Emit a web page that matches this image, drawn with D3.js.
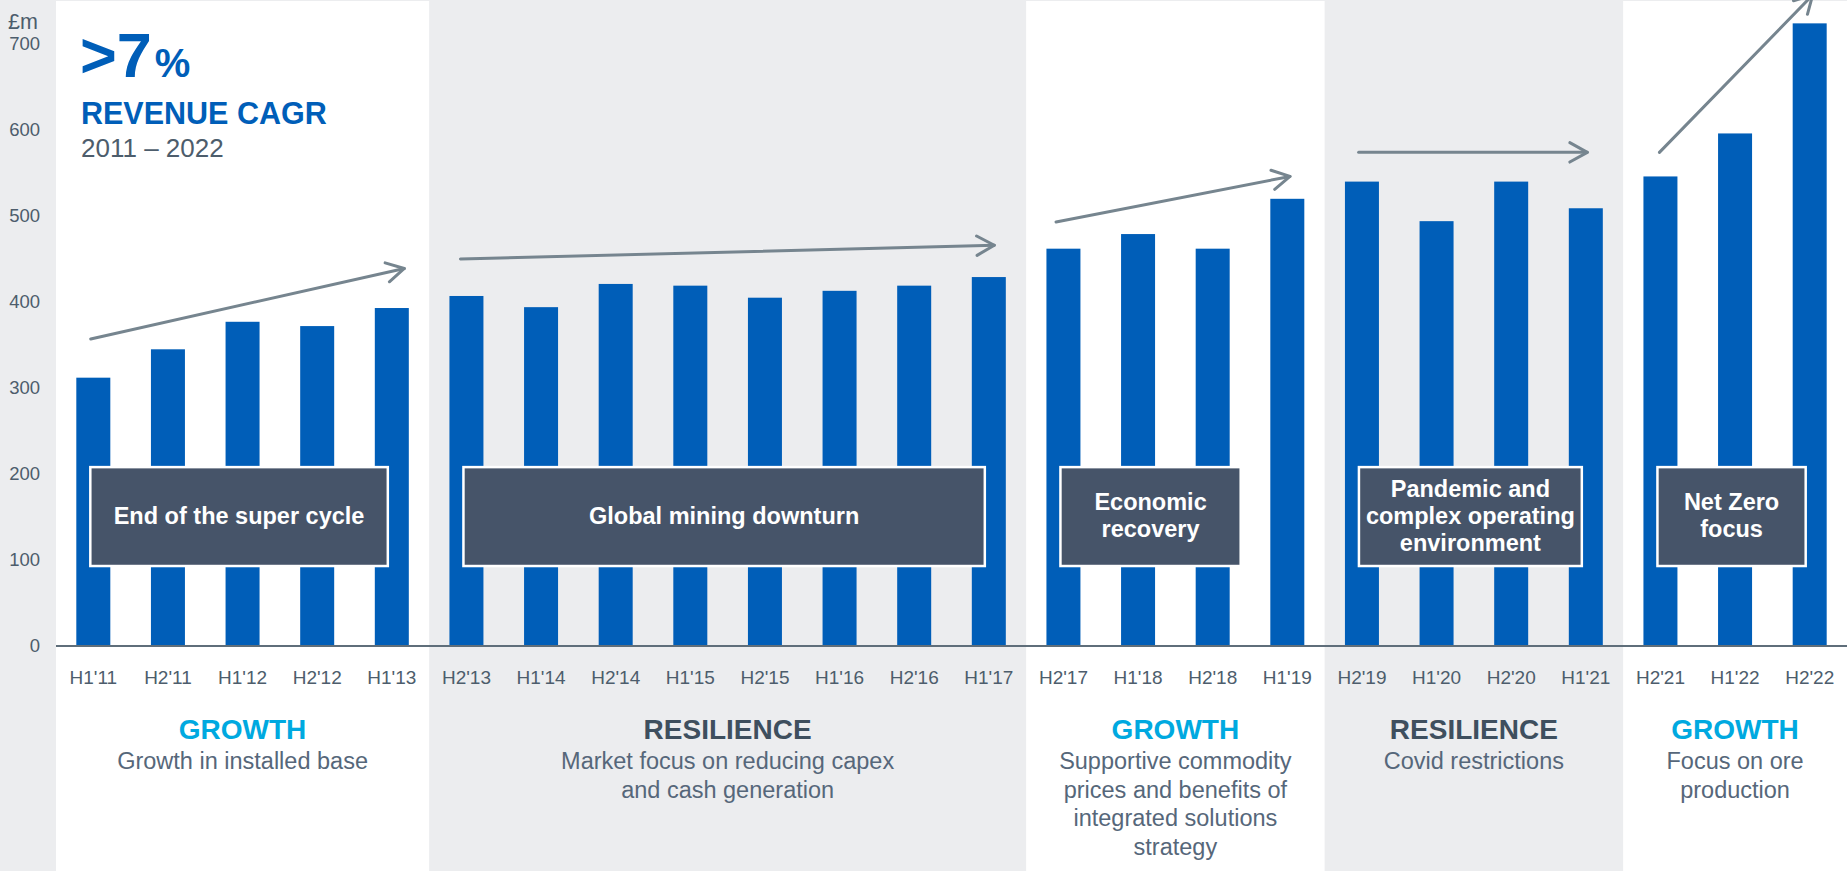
<!DOCTYPE html>
<html>
<head>
<meta charset="utf-8">
<script src="https://cdn.jsdelivr.net/npm/d3@7"></script>
<style>
  html, body { margin: 0; padding: 0; background: #ECEDEF; }
  svg { display: block; font-family: "Liberation Sans", Arial, Helvetica, sans-serif; }
</style>
</head>
<body>
<svg id="chart" width="1847" height="871"></svg>
<script>
// ---------- DATA ----------
const categories = ["H1'11","H2'11","H1'12","H2'12","H1'13",
  "H2'13","H1'14","H2'14","H1'15","H2'15","H1'16","H2'16","H1'17",
  "H2'17","H1'18","H2'18","H1'19",
  "H2'19","H1'20","H2'20","H1'21",
  "H2'21","H1'22","H2'22"];
const revenue = [312, 345, 377, 372, 393,
  407, 394, 421, 419, 405, 413, 419, 429,
  462, 479, 462, 520,
  540, 494, 540, 509,
  546, 596, 724];
const yTicks = [0, 100, 200, 300, 400, 500, 600, 700];
const yUnit = "£m";

// phases: first and last category, heading, description lines
const phaseFirst = ["H1'11", "H2'13", "H2'17", "H2'19", "H2'21"];
const phaseLast  = ["H1'13", "H1'17", "H1'19", "H1'21", "H2'22"];
const phaseTitle = ["GROWTH", "RESILIENCE", "GROWTH", "RESILIENCE", "GROWTH"];
const phaseText = [
  ["Growth in installed base"],
  ["Market focus on reducing capex", "and cash generation"],
  ["Supportive commodity", "prices and benefits of", "integrated solutions", "strategy"],
  ["Covid restrictions"],
  ["Focus on ore", "production"]
];
// annotation boxes
const boxFirst = ["H1'11", "H2'13", "H2'17", "H2'19", "H2'21"];
const boxLast  = ["H1'13", "H1'17", "H2'18", "H1'21", "H2'22"];
const boxText = [
  ["End of the super cycle"],
  ["Global mining downturn"],
  ["Economic", "recovery"],
  ["Pandemic and", "complex operating", "environment"],
  ["Net Zero", "focus"]
];
// trend arrows: start category/value, end category/value
const arrowFrom = ["H1'11", "H2'13", "H2'17", "H2'19", "H2'21"];
const arrowFromVal = [357, 450, 493, 574, 574];
const arrowTo = ["H1'13", "H1'17", "H1'19", "H1'21", "H2'22"];
const arrowToVal = [439, 466, 546, 574, 757];

const headline = ">7";
const headlinePct = "%";
const headlineLabel = "REVENUE CAGR";
const headlinePeriod = "2011 – 2022";

// ---------- LAYOUT ----------
const W = 1847, H = 871;
const svg = d3.select("#chart");
const BLUE = "#005EB8", CYAN = "#00A9E0", SLATE = "#3E4F5E", TXT = "#4D5D6C",
      BG = "#ECEDEF", BOX = "#465469", ARROW = "#76858F";

const x = d3.scaleBand().domain(categories).range([56, 1847])
  .paddingInner(0.5444).paddingOuter(0.2722);
const y = d3.scaleLinear().domain([0, 700]).range([646, 44]);
const step = x.step();
const left = c => x(c) - x.step() * x.paddingInner() / 2;
const right = c => left(c) + step;
const center = c => x(c) + x.bandwidth() / 2;

svg.append("rect").attr("width", W).attr("height", H).attr("fill", BG);

// phase panels
const panels = svg.append("g");
phaseTitle.forEach((t, i) => {
  const x0 = left(phaseFirst[i]), x1 = Math.min(W, right(phaseLast[i]));
  if (t === "GROWTH") {
    panels.append("rect").attr("x", x0).attr("y", 1).attr("width", x1 - x0)
      .attr("height", H - 1).attr("fill", "#FFFFFF");
  }
});

// bars
svg.append("g").selectAll("rect").data(revenue).join("rect")
  .attr("x", (d, i) => x(categories[i]))
  .attr("y", d => y(d))
  .attr("width", x.bandwidth())
  .attr("height", d => y(0) - y(d))
  .attr("fill", BLUE);

// baseline
svg.append("line").attr("x1", 56).attr("x2", W)
  .attr("y1", y(0)).attr("y2", y(0))
  .attr("stroke", "#5F6E7A").attr("stroke-width", 2);

// y axis labels (axis without line/ticks)
const yAxis = d3.axisLeft(y).tickValues(yTicks).tickSize(0).tickPadding(0);
const gy = svg.append("g").attr("transform", "translate(40,0)").call(yAxis);
gy.select(".domain").remove();
gy.selectAll("text").attr("font-size", 18.5).attr("fill", TXT)
  .attr("font-family", "Liberation Sans, Arial, sans-serif");
svg.append("text").attr("x", 8).attr("y", 29).attr("font-size", 21.5)
  .attr("fill", TXT).text(yUnit);

// x axis labels
const xAxis = d3.axisBottom(x).tickSize(0).tickPadding(0);
const gx = svg.append("g").attr("transform", `translate(0,${y(0)})`).call(xAxis);
gx.select(".domain").remove();
gx.selectAll("text").attr("font-size", 19).attr("fill", TXT)
  .attr("font-family", "Liberation Sans, Arial, sans-serif")
  .attr("dy", null).attr("y", 38);

// arrows
const arrowDx0 = [-2.6, -6, -7.4, -3.3, -1];
const arrowDx1 = [12.5, 5.5, 2.7, 1.5, 3];
const ag = svg.append("g").attr("stroke", ARROW).attr("stroke-width", 3)
  .attr("fill", "none").attr("stroke-linecap", "round").attr("stroke-linejoin", "round");
arrowFrom.forEach((c, i) => {
  const x0 = center(c) + arrowDx0[i], y0 = y(arrowFromVal[i]);
  const x1 = center(arrowTo[i]) + arrowDx1[i], y1 = y(arrowToVal[i]);
  ag.append("line").attr("x1", x0).attr("y1", y0).attr("x2", x1).attr("y2", y1);
  const ang = Math.atan2(y0 - y1, x0 - x1);
  const L = 20, a = 29 * Math.PI / 180;
  const p1 = [x1 + L * Math.cos(ang + a), y1 + L * Math.sin(ang + a)];
  const p2 = [x1 + L * Math.cos(ang - a), y1 + L * Math.sin(ang - a)];
  ag.append("path").attr("d", `M${p1[0]},${p1[1]}L${x1},${y1}L${p2[0]},${p2[1]}`);
});

// annotation boxes
const boxEndPad = [0, 0, 32, 0, 0];
const boxTop = y(208), boxBot = y(93);
const bg = svg.append("g");
boxText.forEach((lines, i) => {
  const x0 = center(boxFirst[i]) - 3;
  const x1 = center(boxLast[i]) - 4 + boxEndPad[i];
  bg.append("rect").attr("x", x0).attr("y", boxTop).attr("width", x1 - x0)
    .attr("height", boxBot - boxTop).attr("fill", BOX)
    .attr("stroke", "#FFFFFF").attr("stroke-width", 2.5);
  const cx = (x0 + x1) / 2, cy = (boxTop + boxBot) / 2;
  const n = lines.length;
  lines.forEach((t, j) => {
    bg.append("text").attr("x", cx).attr("y", cy + (j - (n - 1) / 2) * 27 + 7)
      .attr("text-anchor", "middle").attr("font-size", 23.5).attr("font-weight", "bold")
      .attr("fill", "#FFFFFF").text(t);
  });
});

// phase headings & descriptions
phaseTitle.forEach((t, i) => {
  const x0 = left(phaseFirst[i]), x1 = Math.min(W, right(phaseLast[i]));
  const cx = (x0 + x1) / 2;
  svg.append("text").attr("x", cx).attr("y", 739).attr("text-anchor", "middle")
    .attr("font-size", 28).attr("font-weight", "bold")
    .attr("fill", t === "GROWTH" ? CYAN : SLATE).text(t);
  phaseText[i].forEach((line, j) => {
    svg.append("text").attr("x", cx).attr("y", 769 + j * 28.7)
      .attr("text-anchor", "middle").attr("font-size", 23.5)
      .attr("fill", "#56677A").text(line);
  });
});

// headline
const hl = svg.append("text").attr("x", 80).attr("y", 77).attr("fill", BLUE)
  .attr("font-weight", "bold");
hl.append("tspan").attr("font-size", 63).text(headline);
hl.append("tspan").attr("font-size", 40).attr("dx", 3).text(headlinePct);
svg.append("text").attr("x", 81).attr("y", 123.5).attr("fill", BLUE)
  .attr("font-weight", "bold").attr("font-size", 30.5).text(headlineLabel);
svg.append("text").attr("x", 81).attr("y", 157).attr("fill", TXT)
  .attr("font-size", 26).text(headlinePeriod);
</script>
</body>
</html>
